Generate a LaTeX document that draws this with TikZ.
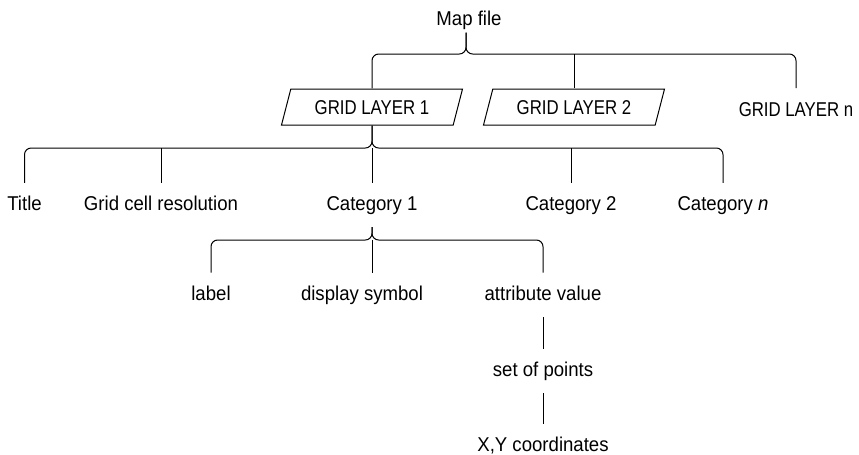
\documentclass[tikz,border=0pt]{standalone}
\usepackage{fontspec}
\setmainfont[FakeStretch=0.93]{Liberation Sans}
\newfontfamily\layerfont[FakeStretch=0.84]{Liberation Sans}
\usetikzlibrary{shapes.geometric}
\tikzset{>=latex}
\tikzset{
    lbl/.style={anchor=base, inner xsep=0pt, inner ysep=9.75pt, text height=10.75pt, text depth=2.25pt},
    layer/.style={draw, trapezium, trapezium left angle=57, trapezium right angle=123,
        trapezium stretches body, minimum width=135.75pt, minimum height=27pt,
        inner sep=0pt, text height=10.75pt, text depth=0pt, font=\fontsize{15}{17}\layerfont},
    fork/.style={rounded corners=5pt}
}
\begin{document}
\begin{tikzpicture}[x=.75pt, y=-.75pt, line width=.75pt, font=\fontsize{15}{17}\selectfont]
    \useasboundingbox(0, 0)rectangle(859, 454);
    \node[lbl, inner ysep=3pt](map)at(469, 25){Map file};
    \node[layer](gl1)at(372, 107){GRID LAYER 1};
    \node[layer](gl2)at(574, 107){GRID LAYER 2};
    \node[lbl, font=\fontsize{15}{17}\layerfont](gln)at(796, 116){GRID LAYER n};
    \node[lbl](title)at(24.5, 210.7){Title};
    \node[lbl](res)at(161, 210.7){Grid cell resolution};
    \node[lbl](cat1)at(372, 210.7){Category 1};
    \node[lbl](cat2)at(571, 210.7){Category 2};
    \node[lbl](catn)at(723, 210.7){Category \textit{n}};
    \node[lbl](lab)at(211, 300.5){label};
    \node[lbl](disp)at(362, 300.5){display symbol};
    \node[lbl](attr)at(543, 300.5){attribute value};
    \node[lbl](pts)at(543, 376.5){set of points};
    \node[lbl](xy)at(543, 451.5){X,Y coordinates};
    \coordinate(b1)at(466, 54);
    \coordinate(b2)at(372, 148);
    \coordinate(b3)at(372, 240);
    \draw[fork](gl1.north)|-(b1)[rounded corners=1.5pt]--(b1 |- map.south);
    \draw[fork](gln.north)|-(b1)[rounded corners=1.5pt]--(b1 |- map.south);
    \draw(gl2.north)--(gl2.north |- b1);
    \draw[fork](title.north)|-(b2)[rounded corners=1.5pt]--(gl1.south);
    \draw[fork](catn.north)|-(b2)[rounded corners=1.5pt]--(gl1.south);
    \draw(res.north)--(res.north |- b2);
    \draw(cat2.north)--(cat2.north |- b2);
    \draw(b2)--(cat1.north);
    \draw[fork](lab.north)|-(b3)[rounded corners=1.5pt]--(cat1.south);
    \draw[fork](attr.north)|-(b3)[rounded corners=1.5pt]--(cat1.south);
    \draw(b3)--(b3 |- disp.north);
    \draw(attr.south)--(pts.north);
    \draw(pts.south)--(xy.north);
\end{tikzpicture}
\end{document}
